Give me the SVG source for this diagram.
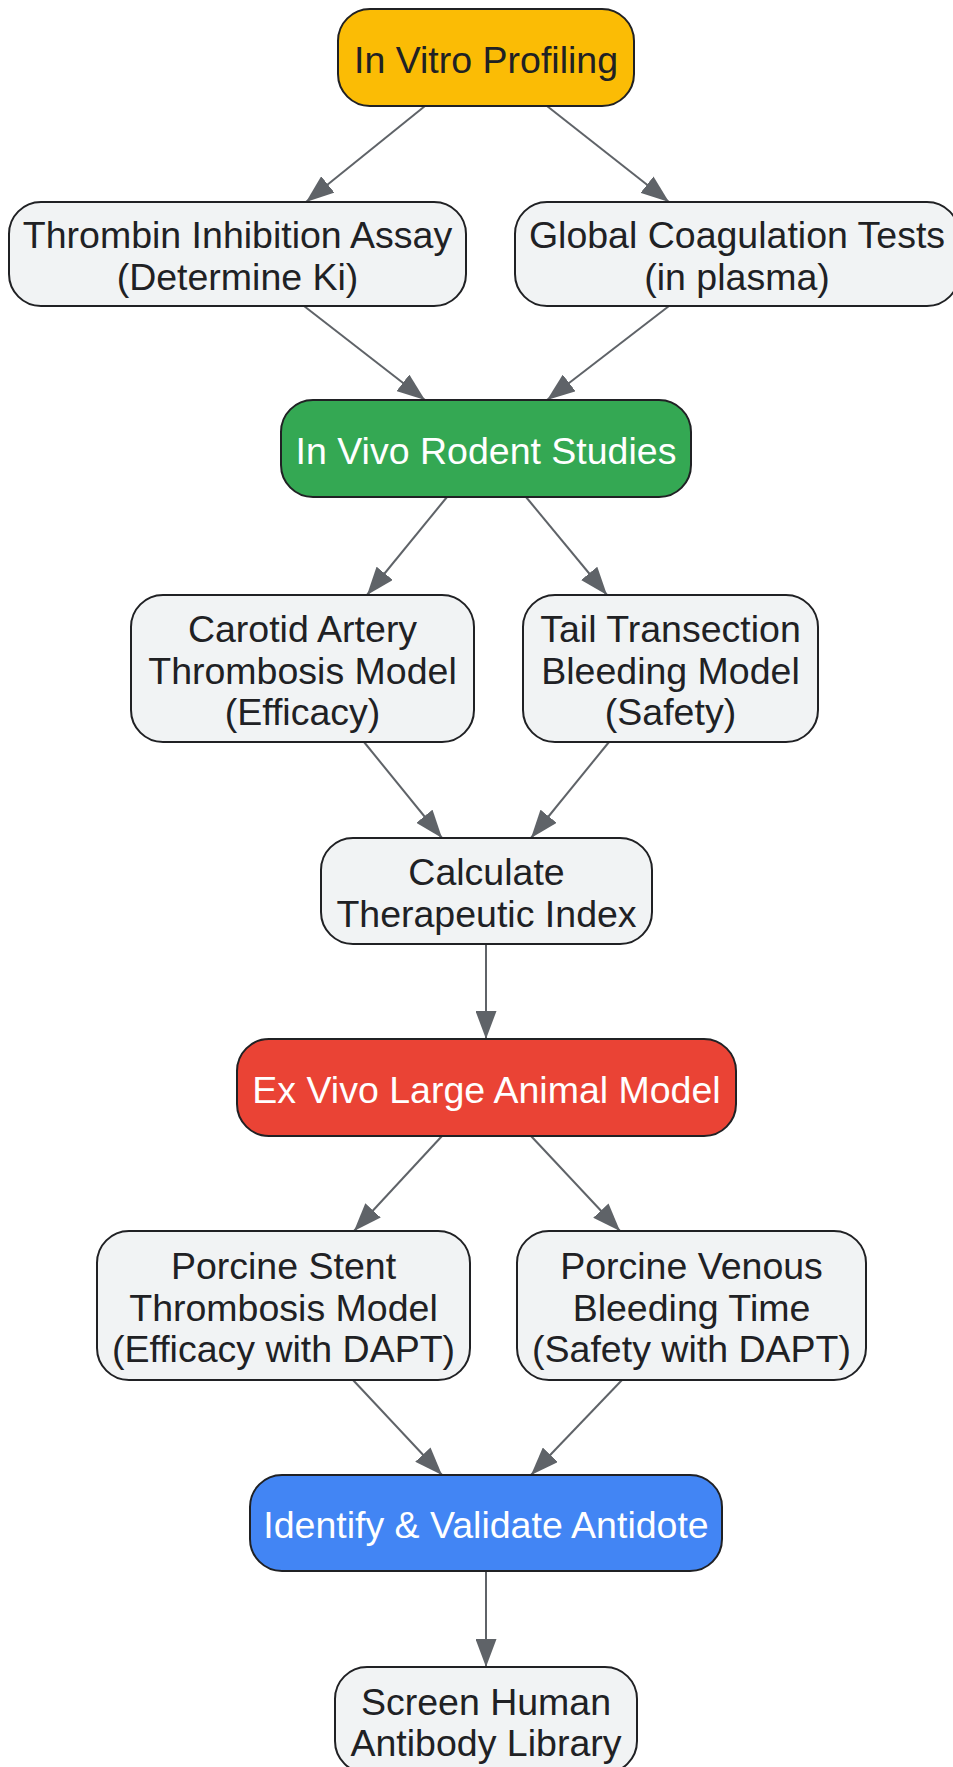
<svg xmlns="http://www.w3.org/2000/svg" width="953" height="1767" viewBox="0 0 953 1767">
<style>
.node rect{stroke:#202124;stroke-width:2}
.light rect{fill:#F1F3F4}
.light text{fill:#202124}
.dark text{fill:#FFFFFF}
text{font-family:"Liberation Sans",Arial,sans-serif;font-size:37.5px;text-anchor:middle}
.edge{stroke:#5F6368;stroke-width:2;fill:none;marker-end:url(#arrow)}
</style>
<defs>
<marker id="arrow" markerUnits="userSpaceOnUse" markerWidth="28" markerHeight="21" refX="28" refY="10.5" orient="auto">
<path d="M0,0 L28,10.5 L0,21 z" fill="#5F6368"/>
</marker>
</defs>
<rect width="953" height="1767" fill="#FFFFFF"/>
<g id="connectors">
<line class="edge" x1="425" y1="106" x2="306" y2="202"/>
<line class="edge" x1="547" y1="106" x2="669" y2="202"/>
<line class="edge" x1="304" y1="306" x2="425" y2="400"/>
<line class="edge" x1="669" y1="306" x2="547" y2="400"/>
<line class="edge" x1="447" y1="497" x2="367" y2="595"/>
<line class="edge" x1="526" y1="497" x2="607" y2="595"/>
<line class="edge" x1="364" y1="742" x2="442" y2="838"/>
<line class="edge" x1="609" y1="742" x2="531" y2="838"/>
<line class="edge" x1="486" y1="944" x2="486" y2="1039"/>
<line class="edge" x1="442" y1="1136" x2="354" y2="1231"/>
<line class="edge" x1="531" y1="1136" x2="620" y2="1231"/>
<line class="edge" x1="353" y1="1380" x2="442" y2="1475"/>
<line class="edge" x1="622" y1="1380" x2="531" y2="1475"/>
<line class="edge" x1="486" y1="1571" x2="486" y2="1667"/>
</g>
<g id="invitro" class="node">
<rect x="338" y="9" width="296" height="97" rx="32" fill="#FBBC05"/>
<text x="486" y="72.5" fill="#202124">In Vitro Profiling</text>
</g>
<g id="thrombin" class="node light">
<rect x="9" y="202" width="457" height="104" rx="32"/>
<text x="237.5" y="248">Thrombin Inhibition Assay</text>
<text x="237.5" y="290">(Determine Ki)</text>
</g>
<g id="global" class="node light">
<rect x="515" y="202" width="444" height="104" rx="32"/>
<text x="737" y="248">Global Coagulation Tests</text>
<text x="737" y="290">(in plasma)</text>
</g>
<g id="invivo" class="node dark">
<rect x="281" y="400" width="410" height="97" rx="32" fill="#34A853"/>
<text x="486" y="463.5">In Vivo Rodent Studies</text>
</g>
<g id="carotid" class="node light">
<rect x="131" y="595" width="343" height="147" rx="32"/>
<text x="302.5" y="642">Carotid Artery</text>
<text x="302.5" y="683.5">Thrombosis Model</text>
<text x="302.5" y="725">(Efficacy)</text>
</g>
<g id="tail" class="node light">
<rect x="523" y="595" width="295" height="147" rx="32"/>
<text x="670.5" y="642">Tail Transection</text>
<text x="670.5" y="683.5">Bleeding Model</text>
<text x="670.5" y="725">(Safety)</text>
</g>
<g id="calc" class="node light">
<rect x="321" y="838" width="331" height="106" rx="32"/>
<text x="486.5" y="885">Calculate</text>
<text x="486.5" y="927">Therapeutic Index</text>
</g>
<g id="exvivo" class="node dark">
<rect x="237" y="1039" width="499" height="97" rx="32" fill="#EA4335"/>
<text x="486.5" y="1102.5">Ex Vivo Large Animal Model</text>
</g>
<g id="stent" class="node light">
<rect x="97" y="1231" width="373" height="149" rx="32"/>
<text x="283.5" y="1279">Porcine Stent</text>
<text x="283.5" y="1320.5">Thrombosis Model</text>
<text x="283.5" y="1362">(Efficacy with DAPT)</text>
</g>
<g id="venous" class="node light">
<rect x="517" y="1231" width="349" height="149" rx="32"/>
<text x="691.5" y="1279">Porcine Venous</text>
<text x="691.5" y="1320.5">Bleeding Time</text>
<text x="691.5" y="1362">(Safety with DAPT)</text>
</g>
<g id="antidote" class="node dark">
<rect x="250" y="1475" width="472" height="96" rx="32" fill="#4285F4"/>
<text x="486" y="1538">Identify &amp; Validate Antidote</text>
</g>
<g id="screen" class="node light">
<rect x="335" y="1667" width="302" height="106" rx="32"/>
<text x="486" y="1714.5">Screen Human</text>
<text x="486" y="1755.5">Antibody Library</text>
</g>
</svg>
